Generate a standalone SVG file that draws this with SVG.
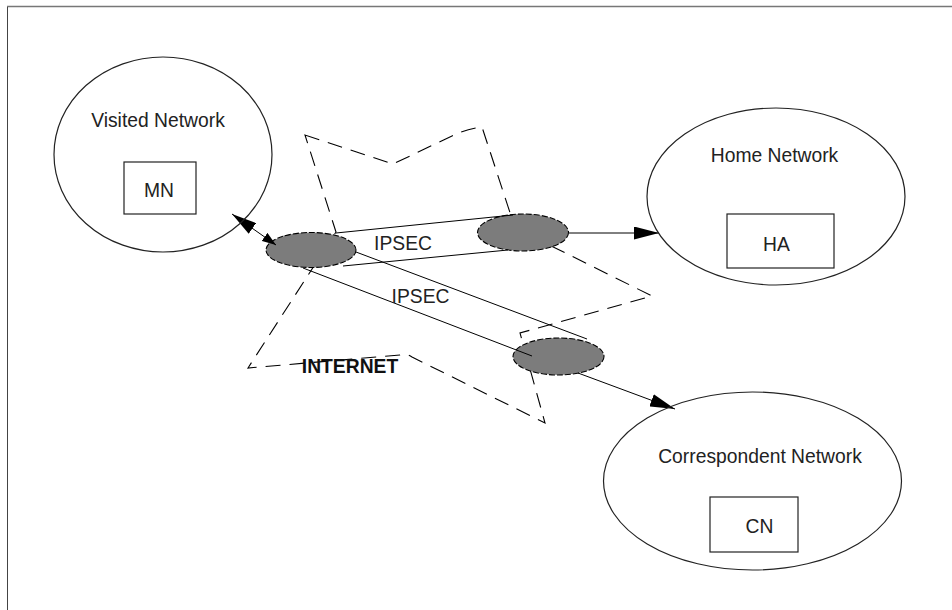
<svg xmlns="http://www.w3.org/2000/svg" width="952" height="610" viewBox="0 0 952 610">
<defs>
<style>
.net{fill:none;stroke:#222;stroke-width:1.2}
.box{fill:none;stroke:#222;stroke-width:1.2}
.rt{fill:#7c7c7c;stroke:#000;stroke-width:1.1;stroke-dasharray:6 2}
.ln{fill:none;stroke:#000;stroke-width:1}
.cloud{fill:none;stroke:#000;stroke-width:1.1;stroke-dasharray:15 9}
.t{font-family:"Liberation Sans",Arial,sans-serif;font-size:19.3px;fill:#222;text-anchor:middle}
.b{font-weight:bold;fill:#111}
</style>
<marker id="ah" markerUnits="userSpaceOnUse" markerWidth="25" markerHeight="13" refX="25" refY="6.5" orient="auto-start-reverse">
<path d="M0,0 L25,6.5 L0,13 Z" fill="#000"/>
</marker>
<marker id="ahs" markerUnits="userSpaceOnUse" markerWidth="14" markerHeight="10" refX="14" refY="5" orient="auto">
<path d="M0,0 L14,5 L0,10 Z" fill="#000"/>
</marker>
</defs>
<rect width="952" height="610" fill="#fff"/>
<g id="frame">
<line x1="7" y1="6.5" x2="952" y2="6.5" stroke="#777" stroke-width="1.6"/>
<line x1="7.5" y1="7" x2="7.5" y2="610" stroke="#444" stroke-width="1"/>
</g>
<g id="internet">
<path class="cloud" d="M305,135 L393,164 L452,136 Q466,129 482,127 L515,228 L652,296 L520,333 L545,423 L412,357 Q406,353 400,355 L248,368 L336,232 Z"/>
</g>
<g id="router1"><ellipse class="rt" cx="311" cy="250" rx="45" ry="17.5"/></g>
<g id="router2"><ellipse class="rt" cx="523" cy="232.5" rx="45.5" ry="18.5"/></g>
<g id="router3"><ellipse class="rt" cx="558.5" cy="356.5" rx="45.5" ry="18.5"/></g>
<g id="connectors">
<line class="ln" x1="336" y1="233" x2="513" y2="215"/>
<line class="ln" x1="343" y1="266" x2="508" y2="250"/>
<line class="ln" x1="356" y1="252" x2="587" y2="339"/>
<line class="ln" x1="303" y1="268" x2="532" y2="356"/>
<line class="ln" x1="569" y1="233" x2="659" y2="233" marker-end="url(#ah)"/>
<line class="ln" x1="578" y1="373" x2="675" y2="409" marker-end="url(#ah)"/>
<line class="ln" x1="232" y1="214" x2="276" y2="245" marker-start="url(#ah)" marker-end="url(#ahs)"/>
</g>
<g id="visited">
<ellipse class="net" cx="163" cy="154.5" rx="109" ry="97.5"/>
<text class="t" x="158" y="127">Visited Network</text>
</g>
<g id="mn">
<rect class="box" x="124" y="162" width="72" height="52"/>
<text class="t" x="159" y="197">MN</text>
</g>
<g id="home">
<ellipse class="net" cx="776" cy="196.5" rx="129" ry="88.5"/>
<text class="t" x="774.5" y="162">Home Network</text>
</g>
<g id="ha">
<rect class="box" x="727" y="214" width="107" height="54"/>
<text class="t" x="776.5" y="251">HA</text>
</g>
<g id="correspondent">
<ellipse class="net" cx="752.5" cy="481" rx="149" ry="89"/>
<text class="t" x="760" y="463">Correspondent Network</text>
</g>
<g id="cn">
<rect class="box" x="710" y="497" width="88" height="55"/>
<text class="t" x="759.5" y="533">CN</text>
</g>
<g id="labels">
<text class="t" x="403" y="250">IPSEC</text>
<text class="t" x="420.5" y="303">IPSEC</text>
<text class="t b" x="350" y="373">INTERNET</text>
</g>
</svg>
